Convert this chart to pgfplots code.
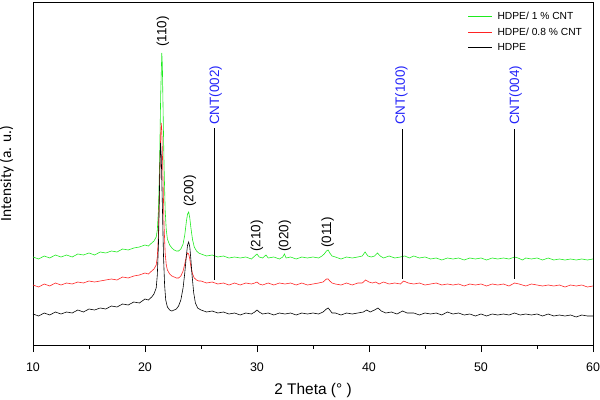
\documentclass[border=0pt]{standalone}
\usepackage{fontspec}
\setmainfont{Liberation Sans}
\newfontfamily\calfont{Carlito}
\usepackage{pgfplots}
\pgfplotsset{compat=1.18}
\definecolor{xgreen}{RGB}{30,235,30}
\definecolor{xred}{RGB}{255,35,35}
\definecolor{xblue}{RGB}{35,35,250}

\begin{document}
\begin{tikzpicture}
\useasboundingbox (-33bp,-55bp) rectangle (567bp,345bp);
\begin{axis}[
    at={(0,0)}, anchor=south west,
    scale only axis,
    width=560bp, height=343bp,
    xmin=10, xmax=60, ymin=0, ymax=343,
    xtick={10,20,...,60},
    minor x tick num=1,
    xtick pos=bottom,
    ytick=\empty,
    tick align=outside,
    major tick length=7bp,
    minor tick length=4bp,
    axis line style={line width=0.8pt},
    every tick/.style={line width=0.8pt, black},
    /pgf/number format/assume math mode=true,
    tick label style={font=\fontsize{12.5}{14}\selectfont},
    xticklabel style={yshift=-7bp},
    xlabel={2 Theta (\textdegree\ )},
    xlabel style={font=\fontsize{15.5}{17}\selectfont, at={(axis description cs:0.5,-0.134)}, anchor=center},
    ylabel={Intensity (a. u.)},
    ylabel style={font=\calfont\fontsize{15.5}{17}\selectfont, at={(axis description cs:-0.047,0.5)}, anchor=center},
    legend style={at={(axis description cs:0.776,0.978)}, anchor=north west,
        draw=none, fill=none, font=\fontsize{10.3}{12}\selectfont,
        row sep=3bp, inner sep=0pt},
    legend cell align=left,
    legend image code/.code={\draw[#1, line width=1pt] (0bp,0bp) -- (24bp,0bp); \path (27bp,0bp);},
    every axis plot/.append style={line width=0.6pt},
]
\addplot[xgreen] coordinates {
(10.0,88) (10.5,86) (11.0,89) (11.5,87) (12.0,90) (12.5,88) (13.0,90) (13.5,88)
(14.0,91) (14.5,90) (15.0,92) (15.5,90) (16.0,93) (16.5,92) (17.0,94) (17.5,93)
(18.0,96) (18.5,95) (19.0,97) (19.5,98) (20.0,100) (20.3,99) (20.6,102) (20.8,104)
(21.0,108) (21.1,115) (21.2,135) (21.3,180) (21.4,250) (21.5,292) (21.55,280)
(21.6,245) (21.7,180) (21.8,135) (21.9,115) (22.0,106) (22.2,100) (22.4,97)
(22.6,95) (22.8,94) (23.0,94) (23.2,96) (23.4,101) (23.55,110) (23.7,124)
(23.8,131) (23.9,133) (24.0,127) (24.1,117) (24.25,105) (24.4,98) (24.6,94)
(24.8,92) (25.0,91) (25.5,89) (26.0,90) (26.5,88) (27.0,89) (27.5,87) (28.0,88)
(28.5,87) (29.0,88) (29.5,86) (29.8,89) (30.0,91) (30.2,88) (30.5,87) (30.8,90)
(31.0,87) (31.5,88) (32.0,86) (32.3,88) (32.45,91) (32.6,87) (33.0,88) (33.5,86)
(34.0,88) (34.5,87) (35.0,88) (35.5,87) (35.8,89) (36.0,91) (36.2,94) (36.35,95)
(36.5,92) (36.7,89) (37.0,88) (37.5,86) (38.0,88) (38.5,87) (39.0,88) (39.4,89)
(39.65,93) (39.9,89) (40.2,88) (40.5,89) (40.75,92) (41.0,89) (41.3,87) (41.8,89)
(42.3,87) (42.8,88) (43.2,89) (43.6,87) (44.0,89) (44.5,87) (45.0,88) (45.5,86)
(46.0,87) (46.5,85) (47.0,87) (47.5,86) (48.0,87) (48.5,85) (49.0,87) (49.5,86)
(50.0,87) (50.5,85) (51.0,87) (51.5,86) (52.0,87) (52.5,86) (53.0,88) (53.3,87)
(53.7,85) (54.0,87) (54.5,86) (55.0,87) (55.5,85) (56.0,87) (56.5,85) (57.0,86)
(57.5,85) (58.0,86) (58.5,85) (59.0,86) (59.5,85) (60.0,86)
};
\addlegendentry{HDPE/ 1 \% CNT}
\addplot[xred] coordinates {
(10.0,60) (10.5,58) (11.0,61) (11.5,59) (12.0,62) (12.5,60) (13.0,62) (13.5,61)
(14.0,63) (14.5,62) (15.0,64) (15.5,63) (16.0,64) (16.5,65) (17.0,66) (17.5,65)
(18.0,68) (18.5,67) (19.0,69) (19.5,70) (20.0,72) (20.3,71) (20.6,74) (20.8,76)
(21.0,80) (21.1,88) (21.2,110) (21.3,160) (21.4,210) (21.45,222) (21.5,215)
(21.6,170) (21.7,120) (21.8,92) (21.9,80) (22.0,75) (22.2,71) (22.4,69) (22.6,68)
(22.8,67) (23.0,67) (23.2,69) (23.4,74) (23.55,81) (23.7,89) (23.8,92) (23.9,91)
(24.0,86) (24.1,78) (24.25,71) (24.4,67) (24.6,65) (24.8,64) (25.0,64) (25.5,62)
(26.0,63) (26.5,61) (27.0,62) (27.5,60) (28.0,62) (28.5,60) (29.0,62) (29.5,61)
(29.8,62) (30.0,63) (30.2,61) (30.5,60) (31.0,62) (31.5,60) (32.0,62) (32.5,61)
(33.0,62) (33.5,60) (34.0,62) (34.5,60) (35.0,61) (35.5,62) (35.9,63) (36.2,66)
(36.35,66) (36.5,64) (36.7,62) (37.0,61) (37.5,60) (38.0,62) (38.5,60) (39.0,62)
(39.4,62) (39.7,65) (40.0,63) (40.3,62) (40.6,63) (40.9,61) (41.3,63) (41.8,61)
(42.3,62) (42.8,61) (43.1,64) (43.5,62) (44.0,61) (44.5,62) (45.0,60) (45.5,61)
(46.0,62) (46.5,60) (47.0,61) (47.5,60) (48.0,61) (48.5,59) (49.0,61) (49.5,60)
(50.0,61) (50.5,59) (51.0,61) (51.5,60) (52.0,61) (52.5,59) (53.0,62) (53.4,61)
(54.0,59) (54.5,61) (55.0,60) (55.5,59) (56.0,60) (56.5,59) (57.0,60) (57.5,58)
(58.0,60) (58.5,59) (59.0,60) (59.5,58) (60.0,59)
};
\addlegendentry{HDPE/ 0.8 \% CNT}
\addplot[black] coordinates {
(10.0,31) (10.5,29) (11.0,32) (11.5,30) (12.0,33) (12.5,31) (13.0,33) (13.5,32)
(14.0,35) (14.5,33) (15.0,36) (15.5,35) (16.0,37) (16.5,36) (17.0,39) (17.5,38)
(18.0,41) (18.5,40) (19.0,43) (19.5,42) (20.0,46) (20.3,45) (20.6,48) (20.8,51)
(21.0,57) (21.1,70) (21.2,100) (21.3,160) (21.38,202) (21.45,190) (21.55,140)
(21.65,90) (21.75,60) (21.85,45) (22.0,38) (22.2,35) (22.4,34) (22.6,35) (22.8,36)
(23.0,39) (23.2,45) (23.4,57) (23.55,72) (23.7,90) (23.8,100) (23.9,103) (24.0,98)
(24.1,85) (24.2,70) (24.35,52) (24.5,42) (24.7,37) (25.0,35) (25.5,33) (26.0,34)
(26.5,32) (27.0,33) (27.5,31) (28.0,32) (28.5,30) (29.0,32) (29.5,31) (29.8,33)
(30.0,35) (30.2,33) (30.5,31) (31.0,32) (31.5,30) (32.0,32) (32.5,31) (33.0,32)
(33.5,30) (34.0,32) (34.5,31) (35.0,32) (35.5,31) (35.9,33) (36.2,36) (36.35,37)
(36.5,35) (36.7,32) (37.0,32) (37.5,30) (38.0,32) (38.5,31) (39.0,32) (39.5,33)
(39.8,35) (40.1,33) (40.5,35) (40.8,37) (41.1,34) (41.5,32) (42.0,33) (42.5,31)
(43.0,34) (43.4,32) (44.0,32) (44.5,30) (45.0,32) (45.5,31) (46.0,32) (46.5,30)
(47.0,33) (47.5,31) (48.0,32) (48.5,30) (49.0,31) (49.5,29) (50.0,31) (50.5,29)
(51.0,31) (51.5,30) (52.0,31) (52.5,30) (53.0,32) (53.5,30) (54.0,31) (54.5,30)
(55.0,31) (55.5,29) (56.0,31) (56.5,29) (57.0,30) (57.5,29) (58.0,30) (58.5,28)
(59.0,30) (59.5,29) (60.0,29)
};
\addlegendentry{HDPE}
% CNT reflection markers
\addplot[black, line width=0.7pt, forget plot] coordinates {(26.2,65) (26.2,217)};
\addplot[black, line width=0.7pt, forget plot] coordinates {(43.0,66) (43.0,216)};
\addplot[black, line width=0.7pt, forget plot] coordinates {(53.0,66) (53.0,216)};
\begin{scope}[every node/.style={rotate=90, anchor=west, inner sep=0pt, font=\fontsize{13.5}{15}\selectfont}]
\node at (axis cs:21.6,298) {(110)};
\node at (axis cs:24.0,138) {(200)};
\node at (axis cs:30.0,93) {(210)};
\node at (axis cs:32.5,93) {(020)};
\node at (axis cs:36.3,97) {(011)};
\node[text=xblue] at (axis cs:26.3,220) {CNT(002)};
\node[text=xblue] at (axis cs:42.9,220) {CNT(100)};
\node[text=xblue] at (axis cs:53.1,220) {CNT(004)};
\end{scope}
\end{axis}
\end{tikzpicture}
\end{document}
